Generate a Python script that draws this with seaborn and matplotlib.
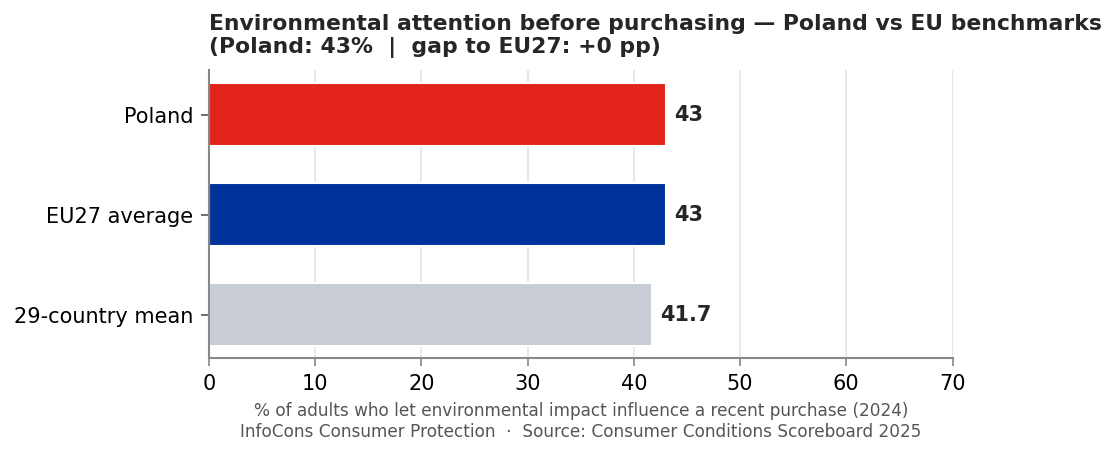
import matplotlib
matplotlib.use("Agg")
import matplotlib.pyplot as plt
import seaborn as sns
import pandas as pd

categories = ["Poland", "EU27 average", "29-country mean"]
values = [43, 43, 41.7]
value_labels = ["43", "43", "41.7"]
colors = ["#E2231A", "#003399", "#C8CDD5"]
xticks = [0, 10, 20, 30, 40, 50, 60, 70]

sns.set_theme(style="white")
plt.rcParams['font.family'] = ['DejaVu Sans']

df = pd.DataFrame({"category": categories, "value": values})

fig = plt.figure(figsize=(7.44, 3.04), dpi=150)
ax = fig.add_axes([0.1873, 0.215, 0.8535 - 0.1873, 0.8465 - 0.215])

sns.barplot(data=df, y="category", x="value", hue="category", palette=colors,
            order=categories, hue_order=categories, orient="h", width=0.63,
            legend=False, ax=ax, saturation=1)

for i, (v, lab) in enumerate(zip(values, value_labels)):
    ax.text(v + 0.8, i, lab, va="center", ha="left", fontsize=10,
            fontweight="bold", color="#262626")

ax.set_xlim(0, 70)
ax.set_xticks(xticks)
ax.set_ylim(2.43, -0.45)
ax.set_ylabel("")
ax.set_xlabel("% of adults who let environmental impact influence a recent purchase (2024)\n"
              "InfoCons Consumer Protection  ·  Source: Consumer Conditions Scoreboard 2025",
              fontsize=8.1, color="#555555", labelpad=4)
ax.tick_params(axis="both", labelsize=10, colors="#000000", length=4, width=0.8,
               bottom=True, left=True)
ax.tick_params(axis="x", color="#888888")
ax.tick_params(axis="y", color="#555555")
ax.grid(axis="x", color="#E5E5E5", linewidth=0.8)
ax.set_axisbelow(True)
for s in ["top", "right"]:
    ax.spines[s].set_visible(False)
for s in ["left", "bottom"]:
    ax.spines[s].set_color("#888888")
    ax.spines[s].set_linewidth(1.0)

ax.set_title("Environmental attention before purchasing — Poland vs EU benchmarks\n"
             "(Poland: 43%  |  gap to EU27: +0 pp)",
             loc="left", fontsize=10.5, fontweight="bold", color="#262626", pad=8)

fig.savefig("out.png", dpi=150)
